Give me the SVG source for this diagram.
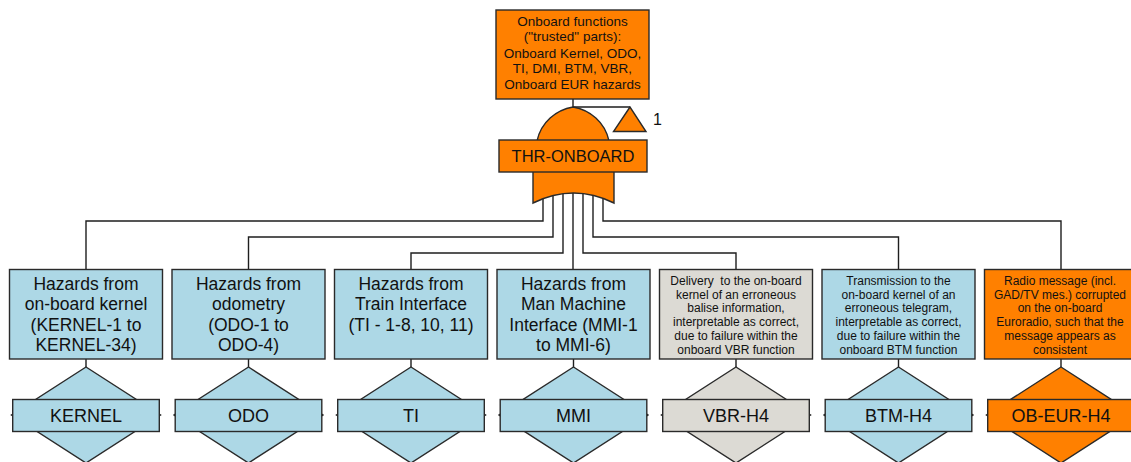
<svg xmlns="http://www.w3.org/2000/svg" width="1131" height="462" viewBox="0 0 1131 462">
<style>
.ln{fill:none;stroke:#1e1e1e;stroke-width:1.4}
.box{stroke:#2a2a2a;stroke-width:1.4}
.or{fill:#FF8000}
.bl{fill:#ADD8E6}
.gr{fill:#DCDAD4}
text{font-family:"Liberation Sans",Arial,sans-serif;fill:#111;text-anchor:middle}
.t13{font-size:13.5px}
.t17{font-size:17.5px}
.t12{font-size:12px}
.t18{font-size:18px}
</style>
<rect width="1131" height="462" fill="#fff"/>
<g id="connectors" class="ln">
<path d="M573,99 V107 H630"/>
<path d="M543,185 V221 H86 V269.5"/>
<path d="M553,185 V237 H248.5 V269.5"/>
<path d="M563,185 V253 H411 V269.5"/>
<path d="M573,185 V269.5"/>
<path d="M583,185 V253 H736 V269.5"/>
<path d="M593,185 V237 H898.5 V269.5"/>
<path d="M603,185 V221 H1061 V269.5"/>
<path d="M86,359 V367 M248.5,359 V367 M411,359 V367 M573.5,359 V367 M736,359 V367 M898.5,359 V367 M1061,359 V367"/>
</g>
<g id="top">
<rect class="box or" x="496" y="10" width="153" height="89"/>
<text class="t13" x="572.5" y="25.7">Onboard functions</text>
<text class="t13" x="572.5" y="41.3">("trusted" parts):</text>
<text class="t13" x="572.5" y="57.6">Onboard Kernel, ODO,</text>
<text class="t13" x="572.5" y="73.4">TI, DMI, BTM, VBR,</text>
<text class="t13" x="572.5" y="88.6">Onboard EUR hazards</text>
</g>
<g id="gate-thr-onboard">
<path class="box or" d="M537,141 C541,122 556,110 573,107 C590,110 605,122 609,141 Z"/>
<path class="box or" d="M533,171 L533,203 Q573.5,183 614,203 L614,171 Z"/>
<rect class="box or" x="499" y="140" width="148" height="32"/>
<text style="font-size:16.5px" x="573" y="161.5">THR-ONBOARD</text>
<polygon class="box or" points="630,107 613.5,131.5 646,131.5"/>
<text style="font-size:16px" x="657.5" y="124.5">1</text>
</g>
<g id="kernel">
<rect class="box bl" x="9.5" y="269.5" width="153" height="89.5"/>
<text class="t17" x="86" y="290">Hazards from</text>
<text class="t17" x="86" y="310.3">on-board kernel</text>
<text class="t17" x="86" y="330.6">(KERNEL-1 to</text>
<text class="t17" x="86" y="351">KERNEL-34)</text>
<polygon class="box bl" points="86,367 160.5,415 86,463 11.5,415"/>
<rect class="box bl" x="12.7" y="399.5" width="146.6" height="32"/>
<text class="t18" x="86" y="422">KERNEL</text>
</g>
<g id="odo">
<rect class="box bl" x="172" y="269.5" width="153" height="89.5"/>
<text class="t17" x="248.5" y="290">Hazards from</text>
<text class="t17" x="248.5" y="310.3">odometry</text>
<text class="t17" x="248.5" y="330.6">(ODO-1 to</text>
<text class="t17" x="248.5" y="351">ODO-4)</text>
<polygon class="box bl" points="248.5,367 323,415 248.5,463 174,415"/>
<rect class="box bl" x="175.2" y="399.5" width="146.6" height="32"/>
<text class="t18" x="248.5" y="422">ODO</text>
</g>
<g id="ti">
<rect class="box bl" x="334.5" y="269.5" width="153" height="89.5"/>
<text class="t17" x="411" y="290">Hazards from</text>
<text class="t17" x="411" y="310.3">Train Interface</text>
<text class="t17" x="411" y="330.6">(TI - 1-8, 10, 11)</text>
<polygon class="box bl" points="411,367 485.5,415 411,463 336.5,415"/>
<rect class="box bl" x="337.7" y="399.5" width="146.6" height="32"/>
<text class="t18" x="411" y="422">TI</text>
</g>
<g id="mmi">
<rect class="box bl" x="497" y="269.5" width="153" height="89.5"/>
<text class="t17" x="573.5" y="290">Hazards from</text>
<text class="t17" x="573.5" y="310.3">Man Machine</text>
<text class="t17" x="573.5" y="330.6">Interface (MMI-1</text>
<text class="t17" x="573.5" y="351">to MMI-6)</text>
<polygon class="box bl" points="573.5,367 648,415 573.5,463 499,415"/>
<rect class="box bl" x="500.2" y="399.5" width="146.6" height="32"/>
<text class="t18" x="573.5" y="422">MMI</text>
</g>
<g id="vbr-h4">
<rect class="box gr" x="659.5" y="269.5" width="153" height="89.5"/>
<text class="t12" x="736" y="285" xml:space="preserve">Delivery  to the on-board</text>
<text class="t12" x="736" y="298.7">kernel of an erroneous</text>
<text class="t12" x="736" y="312.4">balise information,</text>
<text class="t12" x="736" y="326.1">interpretable as correct,</text>
<text class="t12" x="736" y="339.8">due to failure within the</text>
<text class="t12" x="736" y="353.5">onboard VBR function</text>
<polygon class="box gr" points="736,367 810.5,415 736,463 661.5,415"/>
<rect class="box gr" x="662.7" y="399.5" width="146.6" height="32"/>
<text class="t18" x="736" y="422">VBR-H4</text>
</g>
<g id="btm-h4">
<rect class="box bl" x="822" y="269.5" width="153" height="89.5"/>
<text class="t12" x="898.5" y="285">Transmission to the</text>
<text class="t12" x="898.5" y="298.7">on-board kernel of an</text>
<text class="t12" x="898.5" y="312.4">erroneous telegram,</text>
<text class="t12" x="898.5" y="326.1">interpretable as correct,</text>
<text class="t12" x="898.5" y="339.8">due to failure within the</text>
<text class="t12" x="898.5" y="353.5">onboard BTM function</text>
<polygon class="box bl" points="898.5,367 973,415 898.5,463 824,415"/>
<rect class="box bl" x="825.2" y="399.5" width="146.6" height="32"/>
<text class="t18" x="898.5" y="422">BTM-H4</text>
</g>
<g id="ob-eur-h4">
<rect class="box or" x="984.5" y="269.5" width="153" height="89.5"/>
<text class="t12" x="1060" y="285">Radio message (incl.</text>
<text class="t12" x="1060" y="298.7">GAD/TV mes.) corrupted</text>
<text class="t12" x="1060" y="312.4">on the on-board</text>
<text class="t12" x="1060" y="326.1">Euroradio, such that the</text>
<text class="t12" x="1060" y="339.8">message appears as</text>
<text class="t12" x="1060" y="353.5">consistent</text>
<polygon class="box or" points="1061,367 1135.5,415 1061,463 986.5,415"/>
<rect class="box or" x="987.7" y="399.5" width="146.6" height="32"/>
<text class="t18" x="1061" y="422">OB-EUR-H4</text>
</g>
</svg>
